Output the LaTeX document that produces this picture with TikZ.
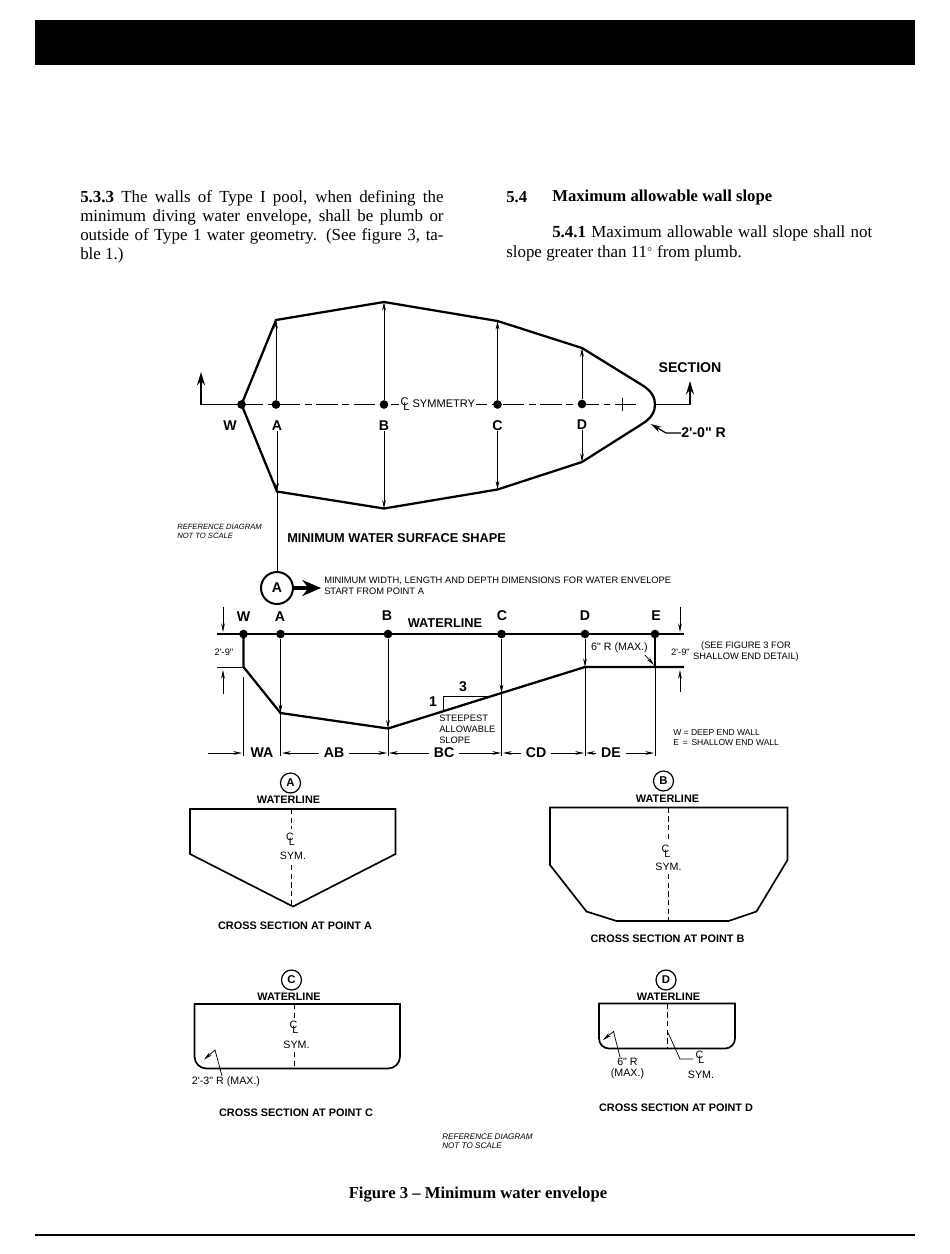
\documentclass[tikz,border=0pt]{standalone}
\usepackage{fontspec}
\setmainfont{Liberation Serif}
\setsansfont[Ligatures=TeXOff]{Liberation Sans}
\usetikzlibrary{arrows.meta}
\tikzset{
	>={Stealth[length=6.5pt,width=2.8pt]},
	outline/.style={line width=1.7pt, line join=miter},
	secoutline/.style={line width=1.25pt, line join=miter},
	pline/.style={line width=1.3pt},
	fine/.style={line width=0.55pt},
	centerdash/.style={line width=0.55pt, dash pattern=on 4pt off 2.5pt},
	stn/.style={circle, fill=black, inner sep=0pt, minimum size=6.5pt},
	bigmark/.style={font=\sffamily\bfseries\fontsize{10.6}{12}\selectfont, inner sep=0pt},
	headmark/.style={font=\sffamily\bfseries\fontsize{9.6}{11}\selectfont, inner sep=0pt},
	sectitle/.style={font=\sffamily\bfseries\fontsize{8.15}{10}\selectfont, inner sep=0pt},
	note/.style={font=\sffamily\fontsize{7}{8.2}\selectfont, inner sep=0pt, align=left},
	secnote/.style={font=\sffamily\fontsize{8}{8.2}\selectfont, inner sep=0pt, align=center},
	smallnote/.style={font=\sffamily\itshape\fontsize{5.7}{6.8}\selectfont, inner sep=0pt, align=left},
	secmark/.style={circle, draw, line width=0.9pt, inner sep=0pt, minimum size=15pt,
		font=\sffamily\bfseries\fontsize{8.5}{9}\selectfont},
	bodytext/.style={font=\fontsize{12.7}{14.25}\selectfont, inner sep=0pt},
	boldbody/.style={font=\fontsize{12.5}{14}\selectfont\bfseries, inner sep=0pt},
}
\newcommand{\clsym}{\ooalign{\raisebox{0.45ex}{C}\cr\hfil\kern0.25em\raisebox{-0.45ex}{L}\hfil\cr}}
\newcommand{\dimrun}[4] % start, end, label, label centre
{
	\node[bigmark] (dim#3) at (#4,753) {#3};
	\draw[fine,<-] (#1+1,753) -- (#4-15,753);
	\draw[fine,->] (#4+15,753) -- (#2-1,753);
}
\newcommand{\gauge}[2] % x, top of lower arrow
{
	\draw[fine,->] (#1,607) -- (#1,632);
	\draw[fine,->] (#1,#2) -- (#1,670);
}
\begin{document}
\begin{tikzpicture}[x=0.75pt, y=-0.75pt]
	\useasboundingbox (0,0) rectangle (950,1254);
	\fill[white] (0,0) rectangle (950,1254);
	% page head and foot
	\fill[black] (35,20) rectangle (915,65);
	\draw[line width=1.5pt] (35,1235) -- (915,1235);
	\node[bodytext, anchor=north west, text width=272.5pt, align=justify] (leftcol) at (80,190) {\textbf{5.3.3} The walls of Type I pool, when defining the\linebreak
		minimum diving water envelope, shall be plumb or\linebreak
		outside of Type 1 water geometry. (See figure 3, ta-\linebreak
		ble 1.)};
	\node[boldbody, anchor=west] (head54) at (506,197) {5.4};
	\node[boldbody, anchor=west] (title54) at (552,197) {Maximum allowable wall slope};
	\node[bodytext, anchor=west] (rightone) at (552,233.5) {\makebox[240pt][s]{\textbf{5.4.1} Maximum allowable wall slope shall not}};
	\node[bodytext, anchor=west] (righttwo) at (506,253.5) {slope greater than 11$^{\scriptscriptstyle\circ}$ from plumb.};

	% plan: water surface
	\coordinate (pW) at (241.5,404.5);
	\coordinate (pAt) at (276,320);
	\coordinate (pBt) at (384,302);
	\coordinate (pCt) at (497.5,321);
	\coordinate (pDt) at (582,348);
	\coordinate (pDb) at (582,462);
	\coordinate (pCb) at (497.5,489.5);
	\coordinate (pBb) at (384,508.5);
	\coordinate (pAb) at (277,491.5);
	\draw[outline] (pW) -- (pAt) -- (pBt) -- (pCt) -- (pDt) -- (642,385)
		.. controls (652,391) and (655,398) .. (655,404.5)
		.. controls (655,411) and (652,418) .. (642,424)
		-- (pDb) -- (pCb) -- (pBb) -- (pAb) -- cycle;
	% section line
	\draw[pline,-{Stealth[length=10pt,width=6pt]}] (pW) -- (201,404.5) -- (201,372);
	\draw[pline,-{Stealth[length=10pt,width=6pt]}] (655,404.5) -- (690,404.5) -- (690,381);
	\draw[line width=1.3pt, dash pattern=on 16pt off 3.5pt on 5pt off 3.5pt] (pW) -- (637,404.5);
	\draw[fine] (622.5,398) -- (622.5,411);
	\node[stn] (stW) at (pW) {};
	\node[stn] (stA) at (276,404.5) {};
	\node[stn] (stB) at (384,404.5) {};
	\node[stn] (stC) at (497.5,404.5) {};
	\node[stn] (stD) at (582,404) {};
	\node[bigmark] (labW) at (230,426) {W};
	\node[bigmark] (labA) at (277,426) {A};
	\node[bigmark] (labB) at (384,426) {B};
	\node[bigmark] (labC) at (497.5,426) {C};
	\node[bigmark] (labD) at (582,425) {D};
	\draw[fine,->] (stA) -- (pAt);
	\draw[fine,->] (stB) -- (pBt);
	\draw[fine,->] (stC) -- (pCt);
	\draw[fine,->] (stD) -- (pDt);
	\draw[fine,->] (labA) -- (pAb);
	\draw[fine,->] (labB) -- (pBb);
	\draw[fine,->] (labC) -- (pCb);
	\draw[fine,->] (labD) -- (pDb);
	\node[fill=white, font=\sffamily\fontsize{8.3}{9}\selectfont, inner sep=1pt, anchor=west] (symm) at (399,404) {\clsym\ SYMMETRY};
	\node[bigmark] (secname) at (690,368) {SECTION};
	\node[bigmark, anchor=west] (endrad) at (681,433) {2'-0" R};
	\draw[line width=0.9pt,-{Stealth[length=8pt,width=4.5pt]}] (endrad.west) -- (666,433) -- (651,424);
	\node[smallnote, anchor=west] (refone) at (177,531.5) {REFERENCE DIAGRAM\\NOT TO SCALE};
	\node[headmark, anchor=west] (shape) at (287,538) {MINIMUM WATER SURFACE SHAPE};

	% start of dimensions
	\node[circle, draw, line width=1.5pt, inner sep=0pt, minimum size=24pt, bigmark] (bigA) at (277,588) {A};
	\draw[fine] (pAb) -- (bigA);
	\draw[line width=2.6pt,-{Stealth[length=14pt,width=12pt]}] (bigA) -- (321,588);
	\node[note, anchor=west] (startnote) at (324,586) {MINIMUM WIDTH, LENGTH AND DEPTH DIMENSIONS FOR WATER ENVELOPE\\START FROM POINT A};

	% long section
	\coordinate (sW) at (243.5,667);
	\coordinate (sA) at (280.5,713);
	\coordinate (sB) at (388,728.5);
	\coordinate (sC) at (501.5,693);
	\coordinate (sD) at (585,667);
	\coordinate (sE) at (655,667);
	\draw[pline] (217,634) -- (684,634);
	\draw[outline] (243.5,634) -- (sW) -- (sA) -- (sB) -- (sC) -- (sD) -- (684,667);
	\draw[outline] (655,634) -- (sE);
	\node[stn] (wW) at (243.5,634) {};
	\node[stn] (wA) at (280.5,634) {};
	\node[stn] (wB) at (388,634) {};
	\node[stn] (wC) at (501.5,634) {};
	\node[stn] (wD) at (585,634) {};
	\node[stn] (wE) at (655,634) {};
	\node[bigmark] (topW) at (243.5,616.5) {W};
	\node[bigmark] (topA) at (280,616.5) {A};
	\node[bigmark] (topB) at (387,615.5) {B};
	\node[headmark] (wline) at (445,623) {WATERLINE};
	\node[bigmark] (topC) at (502,615.5) {C};
	\node[bigmark] (topD) at (585,615.5) {D};
	\node[bigmark] (topE) at (656,615.5) {E};
	\draw[fine,->] (wA) -- (sA);
	\draw[fine,->] (wB) -- (sB);
	\draw[fine,->] (wC) -- (sC);
	\draw[fine,->] (wD) -- (sD);
	\draw[fine] (243.5,677) -- (243.5,756);
	\draw[fine] (sA) -- (280.5,756);
	\draw[fine] (sB) -- (388,756);
	\draw[fine] (sC) -- (501.5,756);
	\draw[fine] (sD) -- (585,756);
	\draw[fine] (sE) -- (655,756);
	\draw[fine] (217,667) -- (sW);
	\gauge{223}{694}
	\gauge{680}{692}
	\node[note] (depthl) at (224,652.5) {2'-9"};
	\node[note] (depthr) at (680.5,652) {2'-9"};
	\node[note, align=center] (seedetail) at (746,651.5) {(SEE FIGURE 3 FOR\\SHALLOW END DETAIL)};
	\node[note, font=\sffamily\fontsize{8}{9}\selectfont] (rsix) at (619.5,648) {6" R (MAX.)};
	\draw[fine,->] (645,655) -- (654,665);
	\draw[fine] (443,710) -- (443,696.5) -- (488,696.5);
	\node[bigmark] (one) at (433,702) {1};
	\node[bigmark] (three) at (463,687) {3};
	\node[note, anchor=north west] (steep) at (439,715) {STEEPEST\\ALLOWABLE\\SLOPE};
	\node[note, font=\sffamily\fontsize{6.4}{7.6}\selectfont, anchor=west] (walls) at (673,738) {W = DEEP END WALL\\E \,= \,SHALLOW END WALL};
	\node[bigmark] (dimWA) at (262,753) {WA};
	\draw[fine,->] (208,753) -- (242,753);
	\dimrun{281}{388}{AB}{334}
	\dimrun{388}{502}{BC}{444}
	\dimrun{502}{585}{CD}{536}
	\dimrun{585}{655}{DE}{611}

	% cross section A
	\node[secmark] (markA) at (290.5,783) {A};
	\node[sectitle] (wlA) at (288.5,800) {WATERLINE};
	\draw[secoutline] (190,809) -- (395.5,809) -- (395.5,854) -- (293,906.5) -- (190,854) -- cycle;
	\draw[centerdash] (291.5,809) -- (291.5,829);
	\draw[centerdash] (291.5,865) -- (291.5,906);
	\node[secnote] (clA) at (290.5,839.5) {\clsym};
	\node[secnote] (symA) at (293,856) {SYM.};
	\node[sectitle] (capA) at (295,925.5) {CROSS SECTION AT POINT A};

	% cross section B
	\node[secmark] (markB) at (663.5,781) {B};
	\node[sectitle] (wlB) at (667.5,798.5) {WATERLINE};
	\draw[secoutline] (550,807.5) -- (787.5,807.5) -- (787.5,860) -- (756.5,911.5) -- (728.5,921)
		-- (616.5,921) -- (586.5,911.5) -- (550,865) -- cycle;
	\draw[centerdash] (668.5,807.5) -- (668.5,842);
	\draw[centerdash] (668.5,874) -- (668.5,921);
	\node[secnote] (clB) at (666,851) {\clsym};
	\node[secnote] (symB) at (668.5,867) {SYM.};
	\node[sectitle] (capB) at (667.5,938.5) {CROSS SECTION AT POINT B};

	% cross section C
	\node[secmark] (markC) at (291.5,980) {C};
	\node[sectitle] (wlC) at (289,997) {WATERLINE};
	\draw[secoutline] (194.5,1004) [rounded corners=9pt] -- (194.5,1068.5) -- (400,1068.5) [sharp corners] -- (400,1004) -- cycle;
	\draw[centerdash] (294,1004) -- (294,1019);
	\draw[centerdash] (294,1052) -- (294,1068);
	\node[secnote] (clC) at (294,1027) {\clsym};
	\node[secnote] (symC) at (296.5,1045) {SYM.};
	\node[secnote] (radC) at (226,1081.5) {2'-3" R (MAX.)};
	\draw[fine,->] (222,1076) -- (215,1050) -- (204,1059.5);
	\node[sectitle] (capC) at (296,1113) {CROSS SECTION AT POINT C};

	% cross section D
	\node[secmark] (markD) at (666,980) {D};
	\node[sectitle] (wlD) at (668.5,997) {WATERLINE};
	\draw[secoutline] (599,1003.5) [rounded corners=7.5pt] -- (599,1048.5) -- (735,1048.5) [sharp corners] -- (735,1003.5) -- cycle;
	\draw[centerdash] (667.5,1003.5) -- (667.5,1048);
	\draw[fine,->] (620,1057) -- (613.5,1031.5) -- (603,1040);
	\draw[fine] (667.5,1031.5) -- (680,1059) -- (693,1059);
	\node[secnote] (clD) at (700,1057.5) {\clsym};
	\node[secnote] (symD) at (701,1074.5) {SYM.};
	\node[secnote] (radD) at (627.5,1068) {6" R\\(MAX.)};
	\node[sectitle] (capD) at (676,1107.5) {CROSS SECTION AT POINT D};

	\node[smallnote, font=\sffamily\itshape\fontsize{6.1}{6.8}\selectfont, anchor=west] (reftwo) at (442,1141.5) {REFERENCE DIAGRAM\\NOT TO SCALE};
	\node[boldbody] (figcap) at (478,1194.5) {Figure 3 -- Minimum water envelope};
\end{tikzpicture}
\end{document}
